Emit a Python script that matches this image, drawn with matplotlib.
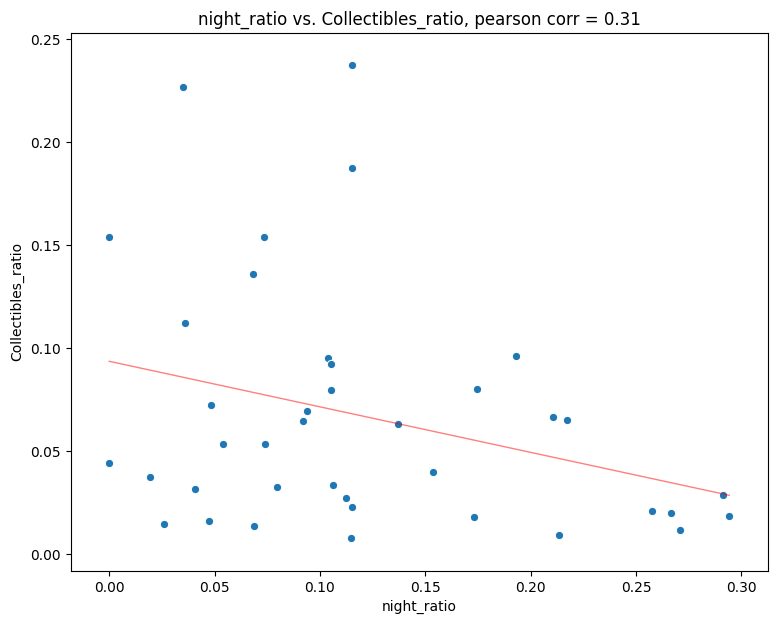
import matplotlib
matplotlib.use("Agg")
import matplotlib.pyplot as plt
import numpy as np

# values
night_ratio = [
    0.0, 0.0, 0.0195, 0.0261, 0.0351, 0.0361, 0.0407, 0.0475, 0.0484, 0.0541,
    0.0683, 0.0688, 0.0736, 0.0740, 0.0797, 0.0921, 0.0937, 0.1039, 0.1054,
    0.1054, 0.1063, 0.1123, 0.1153, 0.1153, 0.1153, 0.1149, 0.1372, 0.1538,
    0.1732, 0.1747, 0.1932, 0.2107, 0.2136, 0.2174, 0.2577, 0.2667, 0.2710,
    0.2913, 0.2943,
]
collectibles_ratio = [
    0.1539, 0.0442, 0.0374, 0.0146, 0.2267, 0.1121, 0.0316, 0.0160, 0.0723,
    0.0534, 0.1359, 0.0136, 0.1539, 0.0534, 0.0325, 0.0646, 0.0694, 0.0951,
    0.0922, 0.0796, 0.0335, 0.0272, 0.2374, 0.1874, 0.0228, 0.0078, 0.0631,
    0.0398, 0.0180, 0.0801, 0.0961, 0.0665, 0.0092, 0.0650, 0.0209, 0.0199,
    0.0117, 0.0286, 0.0184,
]
fit_intercept = 0.0937
fit_slope = -0.221
corr_label = "0.31"

x = np.array(night_ratio)
y = np.array(collectibles_ratio)

fig, ax = plt.subplots(figsize=(7.81, 6.24), dpi=100)
fig.subplots_adjust(left=0.0905, right=0.9837, top=0.9476, bottom=0.0849)

ax.scatter(x, y, s=36, color="#1f77b4", edgecolor="white", linewidth=0.75, zorder=2)

xs = np.array([x.min(), x.max()])
ax.plot(xs, fit_intercept + fit_slope * xs, color="red", alpha=0.5, linewidth=1, zorder=3)

ax.set_xlim(-0.0183, 0.3128)
ax.set_ylim(-0.0081, 0.2532)
ax.set_xlabel("night_ratio")
ax.set_ylabel("Collectibles_ratio")
ax.set_title(f"night_ratio vs. Collectibles_ratio, pearson corr = {corr_label}")

fig.savefig("out.png", dpi=100)
